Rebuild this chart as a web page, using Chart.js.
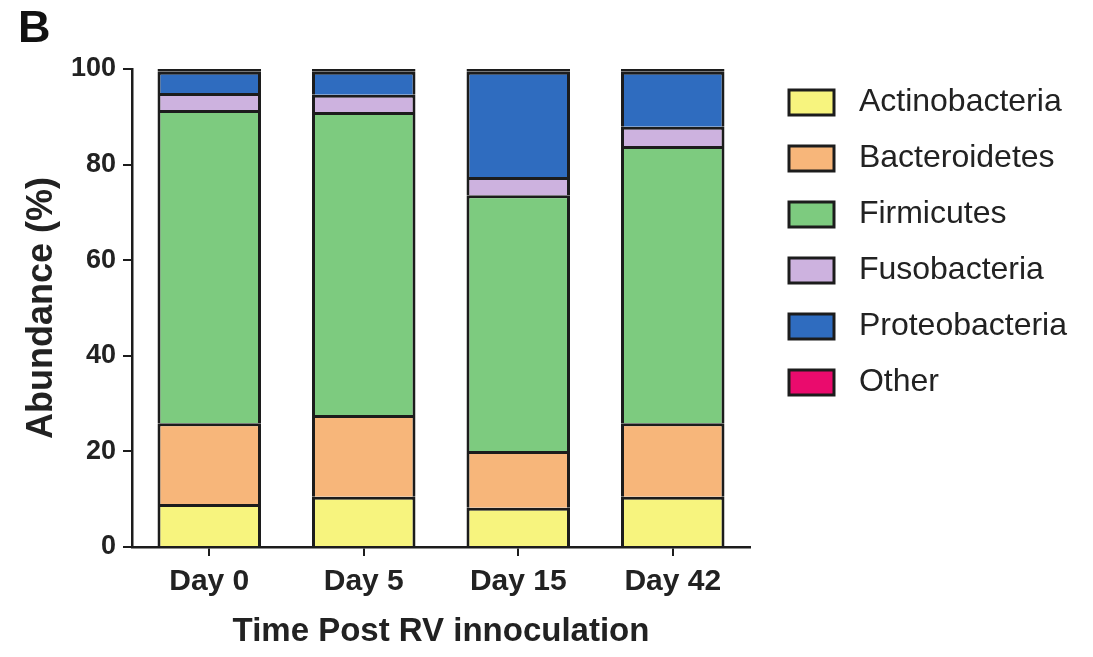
<!DOCTYPE html>
<html>
<head>
<meta charset="utf-8">
<script src="https://cdn.jsdelivr.net/npm/chart.js@4.4.1/dist/chart.umd.min.js"></script>
<style>
  html, body { margin: 0; padding: 0; background: #ffffff; }
  #wrap { width: 1093px; height: 657px; }
</style>
</head>
<body>
<div id="wrap"><canvas id="chart" width="1093" height="657"></canvas></div>
<script>
// Sampling days after RV inoculation
const days = ['Day 0', 'Day 5', 'Day 15', 'Day 42'];

// Relative abundance (%) of each phylum per day
const actinobacteria = [9.0, 10.5, 8.2, 10.5];
const bacteroidetes  = [16.9, 17.1, 11.9, 15.4];
const firmicutes     = [65.5, 63.4, 53.5, 58.0];
const fusobacteria   = [3.6, 3.6, 3.8, 4.0];
const proteobacteria = [4.4, 4.8, 22.0, 11.5];
const other          = [0.6, 0.6, 0.6, 0.6];

const phylumNames = ['Actinobacteria', 'Bacteroidetes', 'Firmicutes', 'Fusobacteria', 'Proteobacteria', 'Other'];
const phylumValues = [actinobacteria, bacteroidetes, firmicutes, fusobacteria, proteobacteria, other];
const phylumColors = ['#f7f47e', '#f7b67a', '#7dcb7f', '#cdb2df', '#2f6cbf', '#ea0b6d'];

const yTicks = [0, 20, 40, 60, 80, 100];

const ink = '#1c1c1c';
const family = '"Liberation Sans", Arial, Helvetica, sans-serif';

// Anchors the legend block's top-left corner at a fixed spot beside the plot
const legendSpot = {
  id: 'legendSpot',
  afterLayout(chart, args, opts) {
    const lg = chart.legend;
    if (!lg) return;
    lg.left = opts.left;
    lg.top = opts.top;
    lg.right = chart.width;
    lg.bottom = chart.height;
    lg.width = lg.right - lg.left;
    lg.height = lg.bottom - lg.top;
  }
};

const datasets = phylumNames.map((name, i) => ({
  label: name,
  data: phylumValues[i],
  backgroundColor: phylumColors[i],
  borderColor: ink,
  borderWidth: 3,
  // the thin top segment is outlined on every side
  borderSkipped: name === 'Other' ? false : 'start',
  categoryPercentage: 1.0,
  barPercentage: 0.67
}));

new Chart(document.getElementById('chart'), {
  type: 'bar',
  data: { labels: days, datasets },
  plugins: [legendSpot],
  options: {
    responsive: false,
    devicePixelRatio: 1,
    animation: false,
    layout: { padding: { left: 18, right: 99, top: 0, bottom: 0 } },
    plugins: {
      tooltip: { enabled: false },
      title: {
        display: true,
        text: 'B',
        align: 'start',
        color: '#111',
        font: { family, size: 45, weight: 'bold' },
        padding: { top: 3, bottom: 12 }
      },
      legend: {
        position: 'right',
        align: 'start',
        labels: {
          color: '#222',
          font: { family, size: 32 },
          boxWidth: 45,
          boxHeight: 25,
          padding: 24,
          generateLabels(chart) {
            return Chart.defaults.plugins.legend.labels.generateLabels(chart)
              .map(item => Object.assign(item, { text: ' ' + item.text }));
          }
        }
      },
      legendSpot: { left: 765, top: 62.5 }
    },
    scales: {
      x: {
        stacked: true,
        grid: {
          display: true,
          offset: false,
          drawOnChartArea: false,
          drawTicks: true,
          tickLength: 9,
          color: ink,
          lineWidth: 2
        },
        border: { display: true, color: ink, width: 2.5 },
        ticks: {
          color: '#222',
          padding: 8,
          font: { family, size: 30, weight: 'bold' }
        },
        title: {
          display: true,
          text: 'Time Post RV innoculation',
          color: '#222',
          font: { family, size: 33, weight: 'bold' },
          padding: { top: 0, bottom: 5 }
        },
        afterFit(scale) { scale.height = 110; }
      },
      y: {
        stacked: true,
        min: 0,
        max: 100,
        afterBuildTicks(scale) { scale.ticks = yTicks.map(v => ({ value: v })); },
        grid: {
          display: true,
          drawOnChartArea: false,
          drawTicks: true,
          tickLength: 9,
          color: ink,
          lineWidth: 2
        },
        border: { display: true, color: ink, width: 2.5 },
        ticks: {
          color: '#222',
          padding: 7,
          font: { family, size: 27, weight: 'bold' }
        },
        title: {
          display: true,
          text: 'Abundance (%)',
          color: '#222',
          font: { family, size: 36, weight: 'bold' },
          padding: { top: 2, bottom: 0 }
        },
        afterFit(scale) { scale.width = 114; }
      }
    }
  }
});
</script>
</body>
</html>
